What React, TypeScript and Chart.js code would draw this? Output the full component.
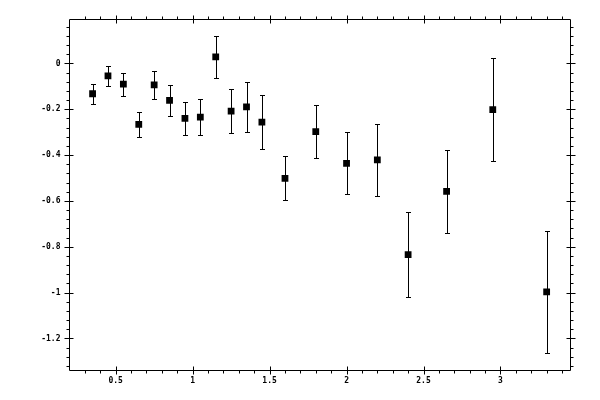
import React, { useEffect, useRef } from "react";
import { Chart, registerables } from "chart.js";

Chart.register(...registerables);

// ---- Data ----
const xValues = [0.35, 0.45, 0.55, 0.65, 0.75, 0.85, 0.95, 1.05, 1.15, 1.25, 1.35, 1.45, 1.6, 1.8, 2.0, 2.2, 2.4, 2.65, 2.95, 3.3];
const yValues = [-0.132, -0.054, -0.090, -0.266, -0.093, -0.161, -0.240, -0.234, 0.029, -0.208, -0.189, -0.256, -0.501, -0.297, -0.436, -0.421, -0.834, -0.558, -0.201, -0.997];
const yErrors = [0.044, 0.043, 0.050, 0.054, 0.061, 0.067, 0.074, 0.080, 0.091, 0.097, 0.108, 0.118, 0.096, 0.117, 0.135, 0.159, 0.185, 0.182, 0.226, 0.265];

const xTickValues = [0.5, 1, 1.5, 2, 2.5, 3];
const yTickValues = [0, -0.2, -0.4, -0.6, -0.8, -1, -1.2];

const X_MIN = 0.2;
const X_MAX = 3.455;
const Y_MIN = -1.34;
const Y_MAX = 0.192;

const FONT = { family: "'DejaVu Sans Mono', monospace", size: 8, weight: "bold" };

const errorBarPlugin = {
  id: "errorBars",
  beforeDatasetsDraw(chart: any) {
    const { ctx, scales } = chart;
    const xs = scales.x;
    const ys = scales.y;
    ctx.save();
    ctx.strokeStyle = "#000";
    ctx.lineWidth = 1;
    ctx.beginPath();
    for (let i = 0; i < xValues.length; i++) {
      const px = Math.round(xs.getPixelForValue(xValues[i])) + 0.5;
      const top = Math.round(ys.getPixelForValue(yValues[i] + yErrors[i])) + 0.5;
      const bot = Math.round(ys.getPixelForValue(yValues[i] - yErrors[i])) + 0.5;
      ctx.moveTo(px, top);
      ctx.lineTo(px, bot);
      ctx.moveTo(px - 2.5, top);
      ctx.lineTo(px + 2.5, top);
      ctx.moveTo(px - 2.5, bot);
      ctx.lineTo(px + 2.5, bot);
    }
    ctx.stroke();
    ctx.restore();
  },
};

const framePlugin = {
  id: "frameTicks",
  afterDraw(chart: any) {
    const { ctx, chartArea, scales } = chart;
    const { left, right, top, bottom } = chartArea;
    const xs = scales.x;
    const ys = scales.y;
    ctx.save();
    ctx.strokeStyle = "#000";
    ctx.lineWidth = 1;
    ctx.beginPath();
    ctx.rect(left, top, right - left, bottom - top);
    // x ticks (every 0.1, majors every 0.5)
    for (let k = 3; k <= 34; k++) {
      const v = k / 10;
      const major = k % 5 === 0;
      const px = Math.round(xs.getPixelForValue(v)) + 0.5;
      if (major) {
        ctx.moveTo(px, bottom - 4);
        ctx.lineTo(px, bottom + 4);
        ctx.moveTo(px, top - 4);
        ctx.lineTo(px, top + 4);
      } else {
        ctx.moveTo(px, bottom);
        ctx.lineTo(px, bottom + 3);
        ctx.moveTo(px, top);
        ctx.lineTo(px, top - 3);
      }
    }
    // y ticks (every 0.04, majors every 0.2)
    for (let k = -33; k <= 4; k++) {
      const v = k * 0.04;
      const major = k % 5 === 0;
      const py = Math.round(ys.getPixelForValue(v)) + 0.5;
      if (major) {
        ctx.moveTo(left - 5, py);
        ctx.lineTo(left + 4, py);
        ctx.moveTo(right - 4, py);
        ctx.lineTo(right + 5, py);
      } else {
        ctx.moveTo(left, py);
        ctx.lineTo(left - 3, py);
        ctx.moveTo(right, py);
        ctx.lineTo(right + 3, py);
      }
    }
    ctx.stroke();
    ctx.restore();
  },
};

export default function App() {
  const ref = useRef<HTMLCanvasElement>(null);
  useEffect(() => {
    document.body.style.margin = "0";
    const chart = new Chart(ref.current!, {
      type: "scatter",
      data: {
        datasets: [
          {
            data: xValues.map((x, i) => ({ x, y: yValues[i] })),
            pointStyle: "rect",
            pointRadius: 4.8,
            pointHoverRadius: 4.8,
            backgroundColor: "#000",
            borderColor: "#000",
            borderWidth: 0,
          },
        ],
      },
      options: {
        animation: false,
        responsive: false,
        devicePixelRatio: 1,
        events: [],
        layout: { padding: { top: 19.5, right: 29.5, left: 0, bottom: 0 } },
        plugins: { legend: { display: false }, tooltip: { enabled: false } },
        scales: {
          x: {
            type: "linear",
            position: "bottom",
            min: X_MIN,
            max: X_MAX,
            grid: { display: false, drawTicks: false },
            border: { display: false },
            afterBuildTicks: (s: any) => {
              s.ticks = xTickValues.map((v) => ({ value: v }));
            },
            afterFit: (s: any) => {
              s.height = 29.5;
            },
            ticks: {
              color: "#000",
              font: FONT,
              padding: 6,
              maxRotation: 0,
              callback: (v: any) => String(v),
            },
          },
          y: {
            type: "linear",
            position: "left",
            min: Y_MIN,
            max: Y_MAX,
            grid: { display: false, drawTicks: false },
            border: { display: false },
            afterBuildTicks: (s: any) => {
              s.ticks = yTickValues.map((v) => ({ value: v }));
            },
            afterFit: (s: any) => {
              s.width = 69.5;
            },
            ticks: {
              color: "#000",
              font: FONT,
              padding: 9,
              callback: (v: any) => String(v),
            },
          },
        },
      },
      plugins: [errorBarPlugin, framePlugin],
    } as any);
    return () => chart.destroy();
  }, []);
  return (
    <div style={{ position: "absolute", left: 0, top: 0, width: 600, height: 400, background: "#fff" }}>
      <canvas ref={ref} width={600} height={400} />
    </div>
  );
}
